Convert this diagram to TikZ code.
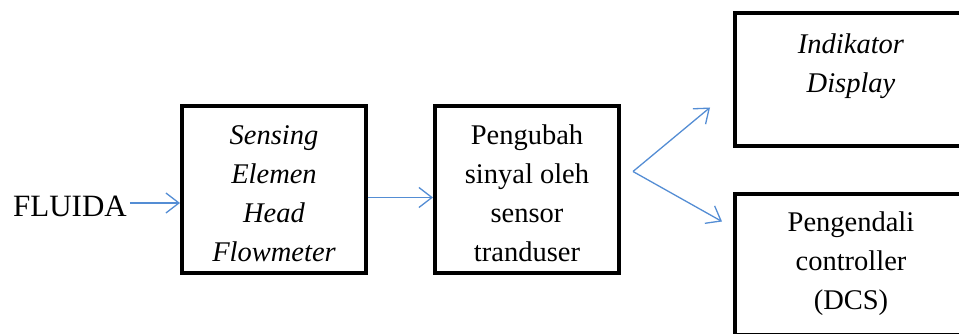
\documentclass[tikz,border=0pt]{standalone}
\usepackage{fontspec}
\setmainfont{Liberation Serif}
\usetikzlibrary{%
  arrows.meta,%
  positioning% wg. " of "
}
\definecolor{panah}{RGB}{84,141,212}

\begin{document}
\begin{tikzpicture}[x=1pt,y=1pt,
    blok/.style={draw,line width=4pt,rectangle,inner sep=0pt,align=center,
      font=\fontsize{28.5}{39}\selectfont},
    alir/.style={draw=panah,line width=1.3pt,-{Straight Barb[length=13pt,width=20pt]}}]
  \useasboundingbox (-274,-144.5) rectangle (685,189.5);
    \node[blok, minimum width=184pt, minimum height=167pt, text height=156pt, text depth=11pt] (sensing) at (0,0) {\itshape Sensing\\ \itshape Elemen\\ \itshape Head\\ \itshape Flowmeter};
    \node[inner sep=0pt, font=\fontsize{31}{37}\selectfont] (fluida) [left=53pt of sensing, yshift=-17pt] {FLUIDA};
    \node[blok, minimum width=184pt, minimum height=167pt, text height=156pt, text depth=11pt] (pengubah) [right=65pt of sensing] {Pengubah\\ sinyal oleh\\ sensor\\ tranduser};
    %keluaran
    \node[blok, minimum width=232pt, minimum height=133pt, text height=79pt, text depth=54pt] (indikator) [right=112pt of pengubah, yshift=109.5pt] {\itshape Indikator\\ \itshape Display};
    \node[blok, minimum width=232pt, minimum height=141pt, text height=115pt, text depth=26pt] (pengendali) [below=44pt of indikator] {Pengendali\\ controller\\ (DCS)};
    \coordinate (cabang) at ([xshift=12pt,yshift=18pt]pengubah.east);
    %panah
    \draw[alir] ([xshift=3pt,yshift=3.5pt]fluida.east) -- ([yshift=3.5pt]fluida.east -| sensing.west);
    \draw[alir] ([yshift=-8pt]sensing.east) -- ([yshift=-8pt]pengubah.west);
    \draw[alir] (cabang) -- ([xshift=-23pt,yshift=41pt]indikator.south west);
    \draw[alir] (cabang) -- ([xshift=-11pt,yshift=-29pt]pengendali.north west);
\end{tikzpicture}
\end{document}
